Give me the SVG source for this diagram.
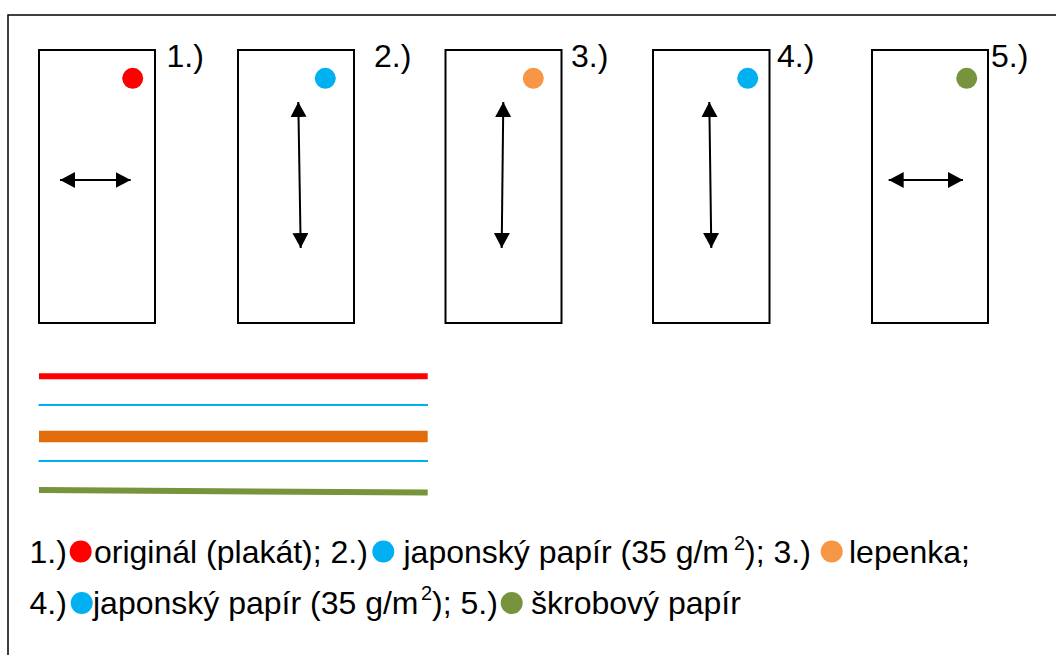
<svg xmlns="http://www.w3.org/2000/svg" width="1056" height="655" viewBox="0 0 1056 655">
  <style>
    .t { font-family: "Liberation Sans", Arial, sans-serif; font-size: 32px; fill: #000; }
    .sup { font-family: "Liberation Sans", Arial, sans-serif; font-size: 20px; fill: #000; }
    .box { fill: #fff; stroke: #000; stroke-width: 2; }
    .arr { stroke: #000; stroke-width: 2; fill: none; marker-start: url(#ah); marker-end: url(#ah); }
    .red { fill: #FF0000; }
    .blue { fill: #00B0F0; }
    .orange { fill: #F79646; }
    .green { fill: #77933C; }
  </style>
  <defs>
    <marker id="ah" markerUnits="userSpaceOnUse" markerWidth="16" markerHeight="17" refX="15" refY="8" orient="auto-start-reverse">
      <path d="M0,0 L15,8 L0,16 z" fill="#000"/>
    </marker>
  </defs>
  <rect x="0" y="0" width="1056" height="655" fill="#fff"/>
  <rect x="8" y="15" width="1060" height="660" fill="none" stroke="#000" stroke-width="1.5"/>

  <g id="sample1">
    <rect class="box" x="39" y="50" width="116" height="273"/>
    <circle class="red" cx="132.7" cy="78.3" r="10.5"/>
    <text class="t" x="166.5" y="66.5">1.)</text>
  </g>
  <g id="sample2">
    <rect class="box" x="238" y="50" width="116" height="273"/>
    <circle class="blue" cx="325.3" cy="78.3" r="10.5"/>
    <text class="t" x="374" y="66.5">2.)</text>
  </g>
  <g id="sample3">
    <rect class="box" x="445.5" y="50" width="116" height="273"/>
    <circle class="orange" cx="533.3" cy="78.3" r="10.5"/>
    <text class="t" x="571" y="66.5">3.)</text>
  </g>
  <g id="sample4">
    <rect class="box" x="653" y="50" width="116.5" height="273"/>
    <circle class="blue" cx="747.7" cy="78.3" r="10.5"/>
    <text class="t" x="777" y="66.5">4.)</text>
  </g>
  <g id="sample5">
    <rect class="box" x="872" y="50" width="116" height="273"/>
    <circle class="green" cx="966.7" cy="78.3" r="10.5"/>
    <text class="t" x="991" y="66.5">5.)</text>
  </g>

  <g id="connectors">
    <line class="arr" x1="60" y1="180" x2="130.7" y2="180"/>
    <line class="arr" x1="298.3" y1="102" x2="300.7" y2="248"/>
    <line class="arr" x1="503.3" y1="102" x2="501.7" y2="248"/>
    <line class="arr" x1="709.3" y1="102" x2="711.3" y2="248"/>
    <line class="arr" x1="888.7" y1="180" x2="963" y2="180"/>
  </g>

  <g id="layers">
    <line x1="39" y1="376.3" x2="427.7" y2="376.3" stroke="#FF0000" stroke-width="6"/>
    <line x1="38.5" y1="405" x2="428" y2="405" stroke="#00B0F0" stroke-width="2"/>
    <line x1="39" y1="436.5" x2="427.7" y2="436.5" stroke="#E36C0A" stroke-width="11.5"/>
    <line x1="38.5" y1="461" x2="428" y2="461" stroke="#00B0F0" stroke-width="2"/>
    <line x1="39" y1="490" x2="427.7" y2="492.6" stroke="#77933C" stroke-width="6"/>
  </g>

  <g id="legend">
    <text class="t" x="29.5" y="563">1.)</text>
    <circle class="red" cx="80.7" cy="551.5" r="11"/>
    <text class="t" x="94" y="563">originál (plakát); 2.)</text>
    <circle class="blue" cx="383.3" cy="551.5" r="11"/>
    <text class="t" x="403.5" y="563">japonský papír (35 g/m</text>
    <text class="sup" x="734" y="549.5">2</text>
    <text class="t" x="745" y="563"> ); 3.)</text>
    <circle class="orange" cx="831.7" cy="551.5" r="11"/>
    <text class="t" x="849" y="563">lepenka;</text>

    <text class="t" x="29.5" y="614">4.)</text>
    <circle class="blue" cx="81.7" cy="603" r="11"/>
    <text class="t" x="93" y="614">japonský papír (35 g/m</text>
    <text class="sup" x="421" y="600">2</text>
    <text class="t" x="432" y="614">); 5.)</text>
    <circle class="green" cx="511.7" cy="603" r="11"/>
    <text class="t" x="531" y="614">škrobový papír</text>
  </g>
</svg>
